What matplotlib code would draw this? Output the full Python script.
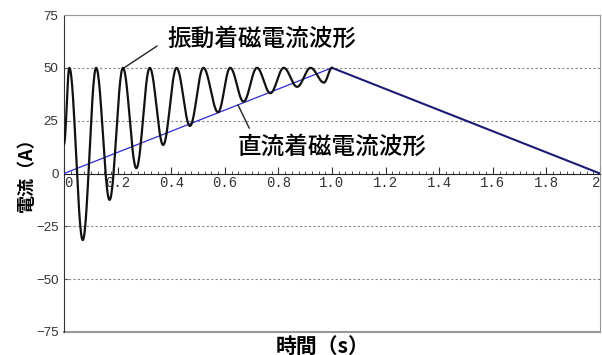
import numpy as np
import matplotlib
matplotlib.use("Agg")
import matplotlib.pyplot as plt
from matplotlib.ticker import MultipleLocator

plt.rcParams['font.family'] = ['Noto Sans CJK JP', 'DejaVu Sans']

# 振動着磁: 極値の時刻と値
vib_t = [0.0, 0.02, 0.07, 0.12, 0.17, 0.22, 0.27, 0.32, 0.37, 0.42, 0.47,
         0.52, 0.575, 0.62, 0.67, 0.72, 0.77, 0.82, 0.87, 0.92, 0.97, 1.0]
vib_v = [14, 50, -31.5, 50, -12.5, 50, 2.5, 50, 13.5, 50, 22.5,
         50, 29, 50, 34, 50, 38, 50, 41, 50, 43, 50]

# 直流着磁
dc_t = [0.0, 1.0]
dc_v = [0, 50]
# 減磁（共通）
down_t = [1.0, 2.0]
down_v = [50, 0]

yticks = [75, 50, 25, 0, -25, -50, -75]
xticks = [0, 0.2, 0.4, 0.6, 0.8, 1.0, 1.2, 1.4, 1.6, 1.8, 2]
xlabels = ["0", "0.2", "0.4", "0.6", "0.8", "1.0", "1.2", "1.4", "1.6", "1.8", "2"]
grid_y = [50, 25, -25, -50]

# 極値の間を半周期の余弦でつなぐ（波形の描き方）
wt, wv = [], []
for i in range(len(vib_t) - 1):
    s = np.linspace(0, 1, 30)
    wt += list(vib_t[i] + (vib_t[i+1] - vib_t[i]) * s)
    wv += list(vib_v[i] + (vib_v[i+1] - vib_v[i]) * (1 - np.cos(np.pi * s)) / 2)

fig = plt.figure(figsize=(6.02, 3.55), dpi=100)
ax = fig.add_axes([64/602, 1-332/355, 536/602, 317/355])
ax.set_xlim(0, 2)
ax.set_ylim(-75, 75)

for g in grid_y:
    ax.axhline(g, color="#888888", lw=0.8, ls=(0, (2, 2)), zorder=1)

ax.plot(dc_t, dc_v, color="#2b2bd6", lw=0.9, zorder=3)
ax.plot(wt, wv, color="#111111", lw=1.6, zorder=4)
ax.plot(down_t, down_v, color="#1c1c78", lw=1.5, zorder=3)

# 枠
for side in ["top", "right"]:
    ax.spines[side].set_color("#999999")
ax.spines["left"].set_color("#333333")
ax.spines["bottom"].set_position(("data", 0))
ax.spines["bottom"].set_color("#222222")
ax.axhline(-75, color="#999999", lw=1.5, clip_on=False)

ax.set_yticks(yticks)
ax.set_yticklabels([str(v).replace("-", "\u2212") for v in yticks],
                   family="Liberation Sans", fontsize=9.5, color="#333333")
ax.tick_params(axis="y", direction="in", length=3, pad=4, color="#555555")

ax.set_xticks(xticks)
ax.set_xticklabels(xlabels, family="Liberation Mono", fontsize=10, color="#333333")
ax.xaxis.set_minor_locator(MultipleLocator(0.025))
ax.tick_params(axis="x", which="major", direction="in", length=5, pad=2, color="#333333")
ax.tick_params(axis="x", which="minor", direction="in", length=2, color="#333333")
tl = ax.get_xticklabels()
tl[0].set_ha("left")
tl[-1].set_ha("right")

ax.annotate("振動着磁電流波形", xy=(0.224, 50), xytext=(0.384, 63.4),
            fontsize=17, weight="medium", ha="left", va="center",
            arrowprops=dict(arrowstyle="-", lw=1, color="#222222",
                            relpos=(0, 0.5), shrinkA=6, shrinkB=0))
ax.annotate("直流着磁電流波形", xy=(0.649, 32.5), xytext=(0.649, 12.3),
            fontsize=17, weight="medium", ha="left", va="center",
            arrowprops=dict(arrowstyle="-", lw=1, color="#222222",
                            relpos=(0.08, 1), shrinkA=4, shrinkB=0))

fig.text(323/602, 1-346/355, "時間（s）", fontsize=15, weight="bold",
         ha="center", va="center")
fig.text(26/602, 1-170/355, "電流（A）", fontsize=13, weight="bold",
         rotation=90, ha="center", va="center")

fig.savefig("out.png", dpi=100, facecolor="white")
